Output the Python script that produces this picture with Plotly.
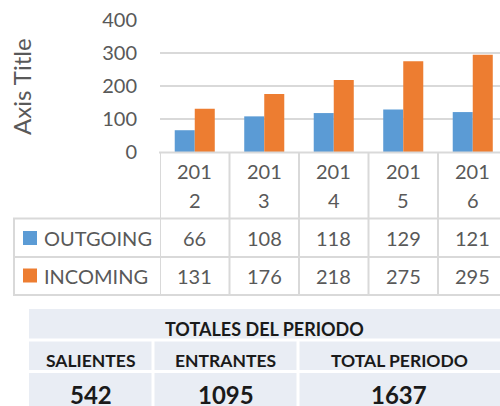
import plotly.graph_objects as go

categories = ["2012", "2013", "2014", "2015", "2016"]
outgoing = [66, 108, 118, 129, 121]
incoming = [131, 176, 218, 275, 295]
series_names = ["OUTGOING", "INCOMING"]
y_ticks = [0, 100, 200, 300, 400]
totals_title = "TOTALES DEL PERIODO"
totals_headers = ["SALIENTES", "ENTRANTES", "TOTAL PERIODO"]

W, H = 500, 406
BLUE, ORANGE = "#5B9BD5", "#ED7D31"
GRID = "#D9D9D9"
TXT = "#595959"
FONT = "Lato"


def px(x):
    return x / W


def py(y):
    return 1 - y / H


fig = go.Figure()
fig.add_trace(go.Bar(x=list(range(len(categories))), y=outgoing, name=series_names[0],
                     marker=dict(color=BLUE, line=dict(width=0))))
fig.add_trace(go.Bar(x=list(range(len(categories))), y=incoming, name=series_names[1],
                     marker=dict(color=ORANGE, line=dict(width=0))))

cat_w = 69.5
x0_px = 160
fig.update_layout(
    template="none",
    width=W, height=H, margin=dict(l=0, r=0, t=0, b=0, pad=0), autosize=False,
    paper_bgcolor="white", plot_bgcolor="white",
    barmode="group", bargap=0.424, bargroupgap=0,
    showlegend=False,
    font=dict(family=FONT, color=TXT, size=20),
    xaxis=dict(domain=[px(x0_px), 1], range=[-0.5, -0.5 + (W - x0_px) / cat_w],
               showticklabels=False, showgrid=False, zeroline=False, showline=False, automargin=False),
    yaxis=dict(domain=[py(152), py(20)], range=[0, 400], tickvals=y_ticks,
               showgrid=True, gridcolor=GRID, gridwidth=2, zeroline=False, automargin=False,
               showline=False, ticks="", ticklabelstandoff=22,
               tickfont=dict(family=FONT, size=20, color=TXT)),
)

shapes = []
LW = 2
# table horizontal lines
shapes.append(dict(type="line", xref="paper", yref="paper", x0=px(159), x1=1.01, y0=py(152.5), y1=py(152.5),
                   line=dict(color=GRID, width=LW)))
for yy in [218.5, 257, 295]:
    shapes.append(dict(type="line", xref="paper", yref="paper", x0=px(13), x1=1.01, y0=py(yy), y1=py(yy),
                       line=dict(color=GRID, width=LW)))
shapes.append(dict(type="line", xref="paper", yref="paper", x0=px(14), x1=px(14), y0=py(218), y1=py(296),
                   line=dict(color=GRID, width=LW)))
# column lines
for i in range(len(categories)):
    shapes.append(dict(type="line", xref="x", yref="paper", x0=i - 0.5, x1=i - 0.5, y0=py(152), y1=py(296),
                       line=dict(color=GRID, width=LW)))
# legend keys
for yc, col in [(238, BLUE), (275.5, ORANGE)]:
    shapes.append(dict(type="rect", xref="paper", yref="paper", x0=px(23), x1=px(37), y0=py(yc + 7), y1=py(yc - 7),
                       fillcolor=col, line=dict(width=0)))

# totals table
TB = "#E9EDF4"
shapes.append(dict(type="rect", xref="paper", yref="paper", x0=px(29), x1=1.01, y0=py(309), y1=py(410),
                   fillcolor=TB, line=dict(width=0), layer="below"))
for yy in [340, 371.5]:
    shapes.append(dict(type="line", xref="paper", yref="paper", x0=px(29), x1=1.01, y0=py(yy), y1=py(yy),
                       line=dict(color="white", width=3)))
for xx in [153, 298]:
    shapes.append(dict(type="line", xref="paper", yref="paper", x0=px(xx), x1=px(xx), y0=py(340), y1=py(410),
                       line=dict(color="white", width=3)))

ann = []
# axis title
ann.append(dict(text="Axis Title", xref="paper", yref="paper", x=px(21), y=py(87), showarrow=False,
                textangle=-90, font=dict(family=FONT, size=24, color=TXT), xanchor="center", yanchor="middle"))
# category labels (wrapped)
for i, c in enumerate(categories):
    ann.append(dict(text=c[:3], xref="x", yref="paper", x=i, y=py(171), showarrow=False,
                    font=dict(family=FONT, size=20, color=TXT), xanchor="center", yanchor="middle"))
    ann.append(dict(text=c[3:], xref="x", yref="paper", x=i, y=py(200), showarrow=False,
                    font=dict(family=FONT, size=20, color=TXT), xanchor="center", yanchor="middle"))
# data table
for vals, name, yc in [(outgoing, series_names[0], 238), (incoming, series_names[1], 276)]:
    ann.append(dict(text=name, xref="paper", yref="paper", x=px(42), y=py(yc), showarrow=False,
                    font=dict(family=FONT, size=20, color=TXT), xanchor="left", yanchor="middle"))
    for i, v in enumerate(vals):
        ann.append(dict(text=str(v), xref="x", yref="paper", x=i, y=py(yc), showarrow=False,
                        font=dict(family=FONT, size=20, color=TXT), xanchor="center", yanchor="middle"))

# totals
BK = "#1a1a1a"
tot_out = sum(outgoing)
tot_in = sum(incoming)
totals = [tot_out, tot_in, tot_out + tot_in]
ann.append(dict(text="<b>" + totals_title + "</b>", xref="paper", yref="paper", x=px(264.5), y=py(329),
                showarrow=False, font=dict(family=FONT, size=18, color=BK), xanchor="center", yanchor="middle"))
col_centers = [91, 225.5, 399]
for xc, h, v in zip(col_centers, totals_headers, totals):
    ann.append(dict(text="<b>" + h + "</b>", xref="paper", yref="paper", x=px(xc), y=py(360),
                    showarrow=False, font=dict(family=FONT, size=17.5, color=BK), xanchor="center", yanchor="middle"))
    ann.append(dict(text="<b>" + str(v) + "</b>", xref="paper", yref="paper", x=px(xc), y=py(394),
                    showarrow=False, font=dict(family=FONT, size=24, color=BK), xanchor="center", yanchor="middle"))

fig.update_layout(shapes=shapes, annotations=ann)
fig.write_html("out.html", config={"displayModeBar": False},
               post_script="document.body.style.margin='0';document.body.style.overflow='hidden';")
